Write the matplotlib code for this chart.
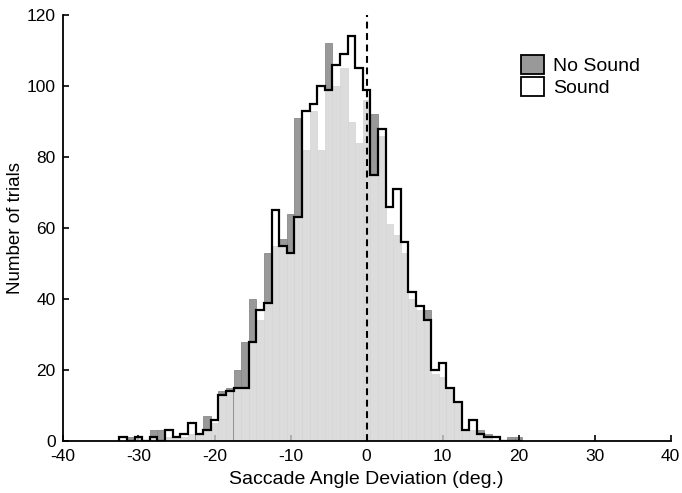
import numpy as np
import matplotlib
matplotlib.use("Agg")
import matplotlib.pyplot as plt
from matplotlib.patches import Patch

plt.rcParams['font.family'] = ['Liberation Sans', 'DejaVu Sans']

# Bin centres (deg.), bin width 1
bin_centers = list(range(-32, 21))
no_sound = [0, 1, 1, 0, 3, 3, 1, 1, 1, 2, 2, 7, 5, 14, 15, 20, 28, 40, 34, 53,
            55, 57, 64, 91, 82, 93, 82, 112, 100, 105, 90, 84, 96, 92, 86, 61,
            58, 53, 40, 37, 37, 19, 18, 15, 11, 3, 3, 3, 2, 0, 0, 1, 1]
sound = [1, 0, 1, 0, 1, 0, 3, 1, 2, 5, 2, 3, 6, 13, 14, 15, 15, 28, 37, 39,
         65, 55, 53, 63, 93, 95, 100, 99, 106, 109, 114, 105, 99, 75, 88, 66,
         71, 56, 42, 38, 34, 20, 22, 15, 11, 3, 6, 2, 1, 1, 0, 0, 0]
x_ticks = [-40, -30, -20, -10, 0, 10, 20, 30, 40]
y_ticks = [0, 20, 40, 60, 80, 100, 120]

centers = np.array(bin_centers, dtype=float)
edges = np.append(centers - 0.5, centers[-1] + 0.5)

fig = plt.figure(figsize=(6.82, 4.93), dpi=100)
ax = fig.add_axes([62.5 / 682, 52 / 493, 608 / 682, 426 / 493])

ax.bar(centers, no_sound, width=1.0, color='#999999', edgecolor='#8a8a8a',
       linewidth=0.6, zorder=1)
ax.bar(centers, sound, width=1.0, color='white', alpha=0.66, edgecolor='none',
       linewidth=0, zorder=2)
ax.stairs(sound, edges, baseline=0, color='black', linewidth=1.6, zorder=3)
ax.plot([0, 0], [0, 120], color='black', linewidth=1.5,
        linestyle=(0, (3.3, 2.2)), zorder=4)

ax.set_xlim(-40, 40)
ax.set_ylim(0, 120)
ax.set_xticks(x_ticks)
ax.set_yticks(y_ticks)
ax.set_xticklabels([str(t) for t in x_ticks])
ax.set_yticklabels([str(t) for t in y_ticks])
for s in ['top', 'right']:
    ax.spines[s].set_visible(False)
for s in ['left', 'bottom']:
    ax.spines[s].set_linewidth(1.3)
ax.tick_params(direction='in', length=4, width=1.2, labelsize=12.5)
ax.tick_params(axis='x', pad=6)
ax.tick_params(axis='y', pad=5)
ax.set_xlabel('Saccade Angle Deviation (deg.)', fontsize=14, labelpad=5)
ax.set_ylabel('Number of trials', fontsize=13.5)
ax.yaxis.set_label_coords(-0.064, 0.5)

handles = [Patch(facecolor='#999999', edgecolor='black', linewidth=1.3),
           Patch(facecolor='white', edgecolor='black', linewidth=1.3)]
ax.legend(handles, ['No Sound', 'Sound'], loc='upper left',
          bbox_to_anchor=(507 / 682, 1 - 41 / 493), bbox_transform=fig.transFigure,
          frameon=False, fontsize=14, handlelength=1.2, handleheight=1.15,
          labelspacing=0.12, handletextpad=0.45, borderpad=0.2)

fig.savefig('out.png', dpi=100)
